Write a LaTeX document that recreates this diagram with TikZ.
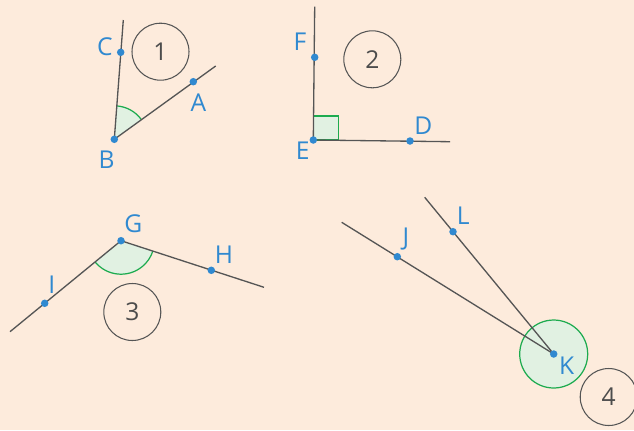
\documentclass[tikz,border=0pt]{standalone}
\usepackage{fontspec}
\setmainfont{Open Sans}
\usetikzlibrary{angles}
\definecolor{Paper}{HTML}{FDEBDC}
\definecolor{Blue}{HTML}{3089D0}
\definecolor{Green}{HTML}{1DAB4F}
\definecolor{Tint}{HTML}{E1F1E2}
\definecolor{Ink}{HTML}{555555}

\begin{document}
\begin{tikzpicture}[x=0.02cm,y=-0.02cm,
    ray/.style={Ink,line width=0.75pt},
    pt/.style={circle,fill=Blue,inner sep=0pt,minimum size=0.15cm},
    lbl/.style={text=Blue,inner sep=0pt,font=\fontsize{14}{16}\selectfont},
    num/.style={circle,draw=Ink,line width=0.6pt,minimum size=1.14cm,inner sep=0pt,
      text=Ink!90!black,font=\fontsize{14}{16}\selectfont},
    anglemark/.style={draw=Green,fill=Tint,line width=0.7pt}
  ]
    \useasboundingbox (0,0) rectangle (634,430);
    \fill[Paper] (0,0) rectangle (634,430);
    % points
    \coordinate (A) at (193.3,81.7);
    \coordinate (B) at (114.3,139.3);
    \coordinate (C) at (120.7,52.3);
    \coordinate (D) at (410,141);
    \coordinate (E) at (313.3,140);
    \coordinate (F) at (314.7,57.3);
    \coordinate (G) at (121,240.7);
    \coordinate (H) at (211.3,270.3);
    \coordinate (I) at (44.7,303.3);
    \coordinate (J) at (397.3,256.7);
    \coordinate (K) at (553.7,354);
    \coordinate (L) at (453,231.7);
    % free ends of the rays
    \coordinate (Aend) at (215.7,66);
    \coordinate (Cend) at (123.3,20);
    \coordinate (Dend) at (450,141.7);
    \coordinate (Fend) at (314.7,6.7);
    \coordinate (Hend) at (264,287.3);
    \coordinate (Iend) at (10,331.7);
    \coordinate (Jend) at (341.7,222.3);
    \coordinate (Lend) at (424.7,197.3);
    % angle marks
    \pic[anglemark,angle radius=0.67cm] {angle=A--B--C};
    \draw[anglemark] (E) rectangle ++(25,-24);
    \pic[anglemark,angle radius=0.67cm] {angle=I--G--H};
    \draw[anglemark] (K) circle[radius=0.68cm];
    % rays
    \draw[ray] (B) -- (Aend);
    \draw[ray] (B) -- (Cend);
    \draw[ray] (E) -- (Dend);
    \draw[ray] (E) -- (Fend);
    \draw[ray] (G) -- (Hend);
    \draw[ray] (G) -- (Iend);
    \draw[ray] (K) -- (Jend);
    \draw[ray] (K) -- (Lend);
    \foreach \p in {A,B,C,D,E,F,G,H,I,J,K,L}
      \node[pt] (dot\p) at (\p) {};
    % letters
    \foreach \p/\x/\y in {A/198.3/102.7,B/106.7/159.3,C/105/46.7,D/423.3/126,
        E/302.7/150.7,F/300/41.7,G/133.3/224,H/224/255,I/51.7/285,
        J/406/239.3,K/566.7/365.7,L/463.3/216}
      \node[lbl] (lab\p) at (\x,\y) {\p};
    % figure numbers
    \node[num] (n1) at (160.5,51.7) {1};
    \node[num] (n2) at (372.3,59.3) {2};
    \node[num] (n3) at (132.3,312) {3};
    \node[num] (n4) at (608.7,397) {4};
  \end{tikzpicture}
\end{document}
